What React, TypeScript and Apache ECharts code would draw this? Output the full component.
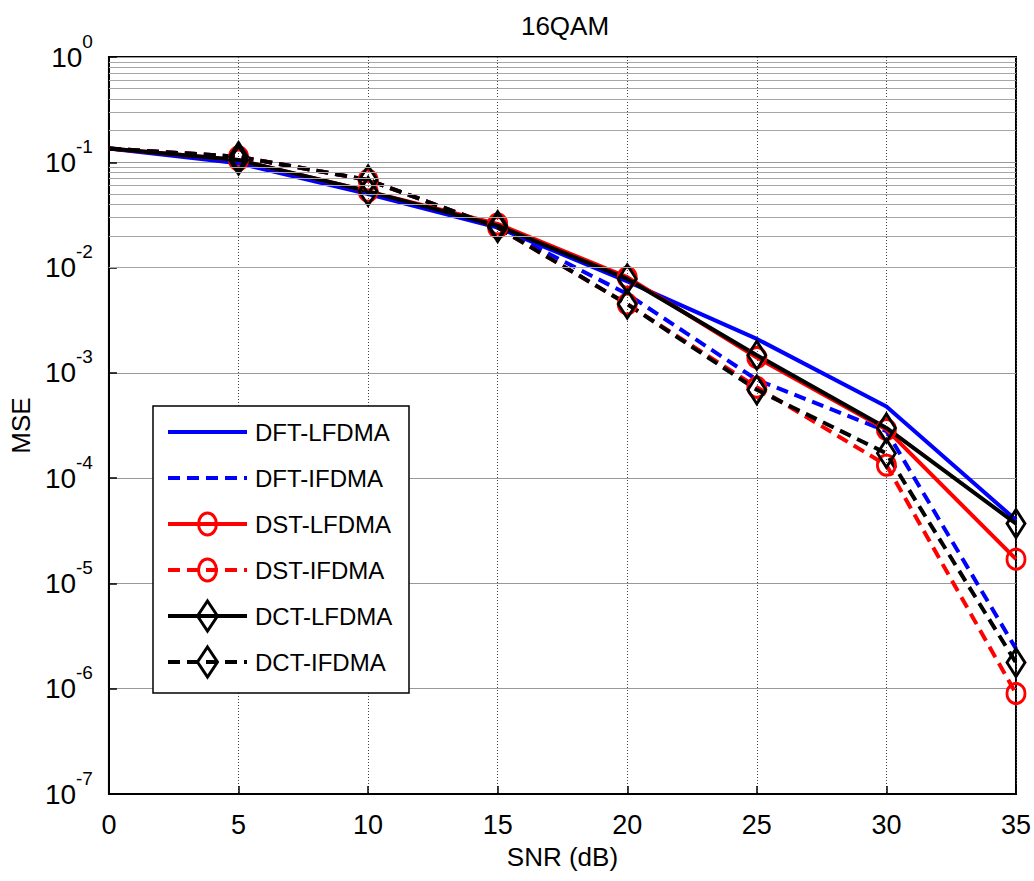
import React, { useEffect, useRef } from "react";
import * as echarts from "echarts";

const snr = [0, 5, 10, 15, 20, 25, 30, 35];
const dftL = [0.135, 0.098, 0.05, 0.024, 0.0074, 0.0021, 0.00048, 4.0e-5];
const dftI = [0.135, 0.113, 0.068, 0.024, 0.0056, 0.00086, 0.00028, 2.4e-6];
const dstL = [0.135, 0.105, 0.053, 0.026, 0.0081, 0.0014, 0.00029, 1.7e-5];
const dstI = [0.135, 0.113, 0.068, 0.024, 0.0045, 0.00073, 0.000133, 9.0e-7];
const dctL = [0.135, 0.105, 0.053, 0.025, 0.0078, 0.00147, 0.0003, 3.7e-5];
const dctI = [0.135, 0.113, 0.068, 0.024, 0.0045, 0.00069, 0.000172, 1.77e-6];
const seriesNames = ["DFT-LFDMA", "DFT-IFDMA", "DST-LFDMA", "DST-IFDMA", "DCT-LFDMA", "DCT-IFDMA"];
const decadeExponents = [-7, -6, -5, -4, -3, -2, -1, 0];
const minorMultipliers = [2, 3, 4, 5, 6, 7, 8, 9];

const FONT = "'Liberation Sans', Arial, sans-serif";
const DASH = [12, 7];

export default function App() {
  const ref = useRef<HTMLDivElement>(null);
  useEffect(() => {
    const chart = echarts.init(ref.current!, null, { renderer: "svg" });
    const defs = [
      { name: seriesNames[0], values: dftL, color: "#0000ff", dashed: false, symbol: "none" },
      { name: seriesNames[1], values: dftI, color: "#0000ff", dashed: true, symbol: "none" },
      { name: seriesNames[2], values: dstL, color: "#ff0000", dashed: false, symbol: "circle" },
      { name: seriesNames[3], values: dstI, color: "#ff0000", dashed: true, symbol: "circle" },
      { name: seriesNames[4], values: dctL, color: "#000000", dashed: false, symbol: "diamond" },
      { name: seriesNames[5], values: dctI, color: "#000000", dashed: true, symbol: "diamond" },
    ];
    const minorVals: number[] = [];
    decadeExponents.slice(0, -1).forEach((e) => {
      minorMultipliers.forEach((m) => minorVals.push(m * Math.pow(10, e)));
    });
    const lineSeries = defs.map((d) => ({
      name: d.name,
      type: "line",
      z: 3,
      symbol: d.symbol,
      symbolSize: d.symbol === "diamond" ? [18, 28] : [18, 20],
      showSymbol: d.symbol !== "none",
      data: snr.map((x, i) =>
        i === 0 ? { value: [x, d.values[i]], symbol: "none" } : { value: [x, d.values[i]] }
      ),
      lineStyle: { color: d.color, width: 4, type: d.dashed ? DASH : "solid" },
      itemStyle: { color: "rgba(0,0,0,0)", borderColor: d.color, borderWidth: 3 },
      emphasis: { disabled: true },
    }));

    // custom legend box (MATLAB style)
    const lgX = 153, lgY = 406, lgW = 256, lgH = 287;
    const rowY0 = 432, rowStep = 46;
    const lineX1 = 168, lineX2 = 247, symX = 207.5, textX = 255;
    const legendEls: any[] = [
      {
        type: "rect",
        shape: { x: lgX, y: lgY, width: lgW, height: lgH },
        style: { fill: "#fff", stroke: "#000", lineWidth: 1.5 },
        z: 100,
      },
    ];
    defs.forEach((d, i) => {
      const cy = rowY0 + i * rowStep;
      legendEls.push({
        type: "line",
        shape: { x1: lineX1, y1: cy, x2: lineX2, y2: cy },
        style: { stroke: d.color, lineWidth: 4, lineDash: d.dashed ? DASH : null },
        z: 101,
      });
      if (d.symbol === "circle") {
        legendEls.push({
          type: "ellipse",
          shape: { cx: symX, cy, rx: 9, ry: 11 },
          style: { fill: "none", stroke: d.color, lineWidth: 3 },
          z: 102,
        });
      } else if (d.symbol === "diamond") {
        legendEls.push({
          type: "polygon",
          shape: {
            points: [
              [symX, cy - 15],
              [symX + 10, cy],
              [symX, cy + 15],
              [symX - 10, cy],
            ],
          },
          style: { fill: "none", stroke: d.color, lineWidth: 3 },
          z: 102,
        });
      }
      legendEls.push({
        type: "text",
        x: textX,
        y: cy,
        style: {
          text: d.name,
          fontFamily: FONT,
          fontSize: 24,
          fill: "#000",
          verticalAlign: "middle",
          align: "left",
        },
        z: 102,
      });
    });

    const option: any = {
      animation: false,
      backgroundColor: "#ffffff",
      title: {
        text: "16QAM",
        left: 560,
        textAlign: "center",
        top: 8,
        textStyle: { fontFamily: FONT, fontSize: 26, fontWeight: "normal", color: "#000" },
      },
      grid: {
        left: 103,
        top: 57,
        width: 915,
        height: 737,
        show: true,
        borderColor: "#000",
        borderWidth: 2,
        backgroundColor: "#fff",
      },
      graphic: legendEls,
      xAxis: {
        type: "value",
        min: 0,
        max: 35,
        interval: 5,
        name: "SNR (dB)",
        nameLocation: "middle",
        nameGap: 50,
        nameTextStyle: { fontFamily: FONT, fontSize: 26, color: "#000" },
        axisLine: { lineStyle: { color: "#000", width: 2 } },
        axisTick: { inside: true, length: 8, lineStyle: { color: "#000", width: 1.5 } },
        axisLabel: { fontFamily: FONT, fontSize: 27, color: "#000", margin: 17 },
        splitLine: { show: true, lineStyle: { color: "#444", width: 1, type: [1, 2] } },
      },
      yAxis: {
        type: "log",
        logBase: 10,
        min: 1e-7,
        max: 1,
        splitNumber: 7,
        name: "MSE",
        nameLocation: "middle",
        nameGap: 68,
        nameTextStyle: { fontFamily: FONT, fontSize: 26, color: "#000" },
        axisLine: { lineStyle: { color: "#000", width: 2 } },
        axisTick: { inside: true, length: 8, lineStyle: { color: "#000", width: 1.5 } },
        axisLabel: {
          margin: 16,
          formatter: (v: number) => `{b|10}{s|${Math.round(Math.log10(v))}}`,
          rich: {
            b: { fontFamily: FONT, fontSize: 28, color: "#000" },
            s: { fontFamily: FONT, fontSize: 19, color: "#000", padding: [0, 0, 32, 0] },
          },
        },
        splitLine: { show: true, lineStyle: { color: "#999", width: 1, type: "solid" } },
      },
      series: [
        {
          name: "minorGrid",
          type: "line",
          z: 1,
          data: [],
          silent: true,
          markLine: {
            silent: true,
            symbol: ["none", "none"],
            label: { show: false },
            animation: false,
            lineStyle: { color: "#a6a6a6", width: 1, type: "solid" },
            data: minorVals.map((v) => ({ yAxis: v })),
          },
        },
        ...lineSeries,
      ],
    };
    chart.setOption(option);
    return () => chart.dispose();
  }, []);
  return (
    <div
      ref={ref}
      style={{ position: "absolute", left: 0, top: 0, width: 1034, height: 881 }}
    />
  );
}
